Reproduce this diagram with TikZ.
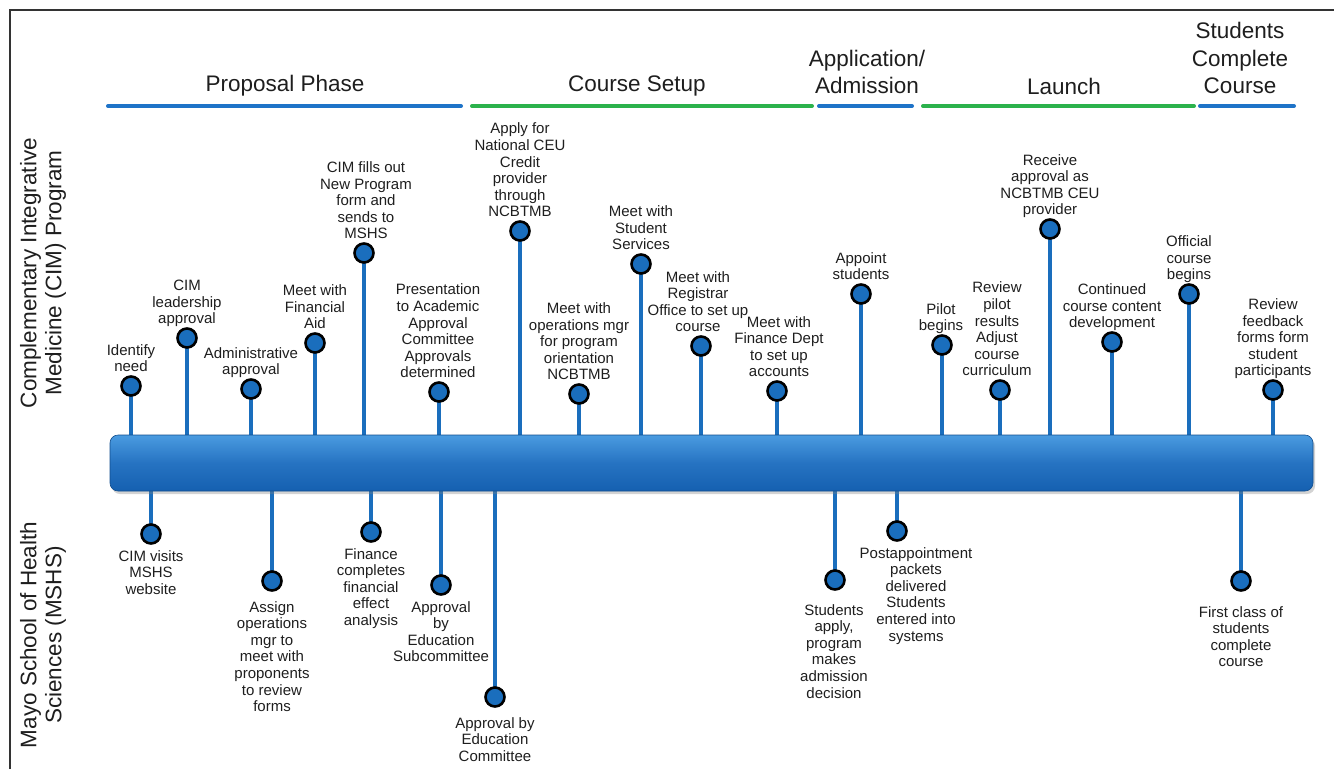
\documentclass[tikz,border=0pt]{standalone}
\usepackage{fontspec}
\setmainfont{Liberation Sans}
\usetikzlibrary{shadows}
\definecolor{dotblue}{HTML}{1A6EBD}
\definecolor{hblue}{HTML}{1E73C8}
\definecolor{hgreen}{HTML}{2BB24C}
\definecolor{txt}{HTML}{1E1E1E}
\definecolor{bartop}{HTML}{4A9BE0}
\definecolor{barmid}{HTML}{2673C2}
\definecolor{barbot}{HTML}{1560B0}
\pgfdeclarelayer{bg}
\pgfsetlayers{bg,main}
\tikzset{
  dot/.style={circle, draw=black, line width=2.6pt, fill=dotblue, minimum size=19pt, inner sep=0pt},
  stem/.style={draw=dotblue, line width=3.6pt},
  lab/.style={font=\fontsize{15}{16.6}\selectfont, text=txt, align=center, inner sep=0pt},
  ulab/.style={lab, anchor=south, execute at end node=\strut},
  dlab/.style={lab, anchor=north, execute at begin node=\strut},
  head/.style={font=\fontsize{22.5}{27.5}\selectfont, text=txt, align=center, inner sep=0pt},
  side/.style={font=\fontsize{22.5}{25}\selectfont, text=txt, align=center, inner sep=0pt, rotate=90},
  hline/.style={line width=4pt, line cap=round},
}
\newcommand\upev[5]{%
  \node[dot] (#1) at (#2,#3) {};
  \node[ulab] (#1l) at (#4,#3-9) {#5};
  \begin{pgfonlayer}{bg}\draw[stem] (#1.center) -- (#1 |- bar.north);\end{pgfonlayer}}
\newcommand\dnev[6]{%
  \node[dot] (#1) at (#2,#3) {};
  \node[dlab] (#1l) at (#4,#3+16+#5) {#6};
  \begin{pgfonlayer}{bg}\draw[stem] (#1.center) -- (#1 |- bar.south);\end{pgfonlayer}}
\begin{document}
\begin{tikzpicture}[x=1pt,y=-1pt]
\useasboundingbox (0,0) rectangle (1334,769);
% frame
\draw[draw=black!80, line width=1.3pt] (10,769) -- (10,10) -- (1334,10);
% side labels
\node[side] (cim) at (43,273) {Complementary Integrative\\Medicine (CIM) Program};
\node[side] (mshs) at (43,635) {Mayo School of Health\\Sciences (MSHS)};
% phases
\node[head] (h1) at (285,86) {Proposal Phase};
\node[head] (h2) at (637,86) {Course Setup};
\node[head] (h3) at (867,72) {Application/\\Admission};
\node[head] (h4) at (1064,86) {Launch};
\node[head] (h5) at (1240,58) {Students\\Complete\\Course};
\coordinate (p1a) at (108,106); \coordinate (p1b) at (461,106);
\coordinate (p2a) at (472,106); \coordinate (p2b) at (812,106);
\coordinate (p3a) at (819,106); \coordinate (p3b) at (912,106);
\coordinate (p4a) at (923,106); \coordinate (p4b) at (1194,106);
\coordinate (p5a) at (1200,106); \coordinate (p5b) at (1294,106);
\draw[hline, hblue] (p1a) -- (p1b);
\draw[hline, hgreen] (p2a) -- (p2b);
\draw[hline, hblue] (p3a) -- (p3b);
\draw[hline, hgreen] (p4a) -- (p4b);
\draw[hline, hblue] (p5a) -- (p5b);
% bar
\node[draw=barbot!80!black, line width=0.6pt, rounded corners=8pt, minimum width=1203pt, minimum height=56pt,
  top color=bartop, bottom color=barbot, middle color=barmid, inner sep=0pt,
  drop shadow={shadow xshift=2pt, shadow yshift=-3pt, opacity=0.35}] (bar) at (711.5,463) {};
% upper events
\upev{u1}{131}{386}{131}{Identify\\need}
\upev{u2}{187}{338}{187}{CIM\\leadership\\approval}
\upev{u3}{251}{389}{251}{Administrative\\approval}
\upev{u4}{315}{343}{315}{Meet with\\Financial\\Aid}
\upev{u5}{364}{253}{366}{CIM fills out\\New Program\\form and\\sends to\\MSHS}
\upev{u6}{439}{392}{438}{Presentation\\to Academic\\Approval\\Committee\\Approvals\\determined}
\upev{u7}{520}{231}{520}{Apply for\\National CEU\\Credit\\provider\\through\\NCBTMB}
\upev{u8}{579}{394}{579}{Meet with\\operations mgr\\for program\\orientation\\NCBTMB}
\upev{u9}{641}{264}{641}{Meet with\\Student\\Services}
\upev{u10}{701}{346}{698}{Meet with\\Registrar\\Office to set up\\course}
\upev{u11}{777}{391}{779}{Meet with\\Finance Dept\\to set up\\accounts}
\upev{u12}{861}{294}{861}{Appoint\\students}
\upev{u13}{942}{345}{941}{Pilot\\begins}
\upev{u14}{1000}{390}{997}{Review\\pilot\\results\\Adjust\\course\\curriculum}
\upev{u15}{1050}{229}{1050}{Receive\\approval as\\NCBTMB CEU\\provider}
\upev{u16}{1112}{342}{1112}{Continued\\course content\\development}
\upev{u17}{1189}{294}{1189}{Official\\course\\begins}
\upev{u18}{1273}{390}{1273}{Review\\feedback\\forms form\\student\\participants}
% lower events
\dnev{d1}{151}{534}{151}{0}{CIM visits\\MSHS\\website}
\dnev{d2}{272}{581}{272}{4}{Assign\\operations\\mgr to\\meet with\\proponents\\to review\\forms}
\dnev{d3}{371}{532}{371}{0}{Finance\\completes\\financial\\effect\\analysis}
\dnev{d4}{441}{585}{441}{0}{Approval\\by\\Education\\Subcommittee}
\dnev{d5}{495}{697}{495}{4}{Approval by\\Education\\Committee}
\dnev{d6}{835}{580}{834}{8}{Students\\apply,\\program\\makes\\admission\\decision}
\dnev{d7}{897}{531}{916}{0}{Postappointment\\packets\\delivered\\Students\\entered into\\systems}
\dnev{d8}{1241}{581}{1241}{9}{First class of\\students\\complete\\course}
\end{tikzpicture}
\end{document}
